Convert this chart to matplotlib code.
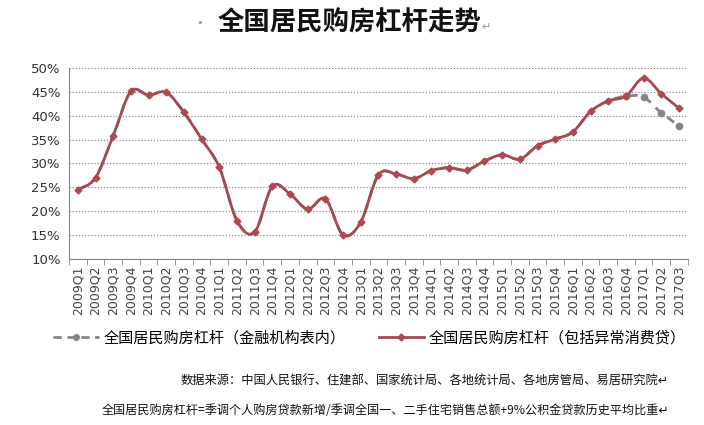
import numpy as np
import matplotlib
matplotlib.use("Agg")
import matplotlib.pyplot as plt
from matplotlib.path import Path
from matplotlib.patches import PathPatch
from matplotlib.lines import Line2D
from matplotlib.ticker import FuncFormatter

plt.rcParams['font.family'] = ['Noto Sans CJK SC', 'DejaVu Sans']

# quarters 2009Q1 .. 2017Q3
quarters = ['%dQ%d' % (y, q) for y in range(2009, 2018) for q in range(1, 5)][:35]

# 全国居民购房杠杆（包括异常消费贷）
lev_all = [24.5, 27.0, 35.8, 45.1, 44.3, 44.9, 40.7, 35.1, 29.2, 18.0,
           15.6, 25.2, 23.6, 20.4, 22.6, 15.0, 17.7, 27.6, 27.8, 26.8,
           28.5, 29.1, 28.6, 30.5, 31.8, 30.9, 33.7, 35.1, 36.6, 40.9,
           43.1, 44.1, 47.9, 44.6, 41.6]
# 全国居民购房杠杆（金融机构表内）: same until 2016Q4
lev_bank = lev_all[:32] + [43.9, 40.6, 37.9]

name_bank = '全国居民购房杠杆（金融机构表内）'
name_all = '全国居民购房杠杆（包括异常消费贷）'

red = '#A34A52'
gray = '#858585'


def smooth_path(xs, ys):
    # excel style smoothed line as cubic bezier segments
    pts = np.column_stack([xs, ys])
    ext = np.vstack([pts[0], pts, pts[-1]])
    verts = [pts[0]]
    codes = [Path.MOVETO]
    for i in range(len(pts) - 1):
        p0, p1, p2, p3 = ext[i], ext[i + 1], ext[i + 2], ext[i + 3]
        verts += [p1 + (p2 - p0) / 6.0, p2 - (p3 - p1) / 6.0, p2]
        codes += [Path.CURVE4] * 3
    return Path(verts, codes)


fig = plt.figure(figsize=(7.04, 4.25), dpi=100)
ax = fig.add_axes([0.098, 0.391, 0.879, 0.449])

x = np.arange(len(quarters))
yb = np.array(lev_bank) / 100
ya = np.array(lev_all) / 100

ax.add_patch(PathPatch(smooth_path(x, yb), fill=False, ec=gray, lw=2.0,
                       ls=(0, (3, 2.5)), zorder=3))
ax.plot(x[31:], yb[31:], ls='none', marker='o', ms=4.5, color=gray, zorder=4)
ax.add_patch(PathPatch(smooth_path(x, ya), fill=False, ec=red, lw=2.0, zorder=5))
ax.plot(x, ya, ls='none', marker='D', ms=3.5, color='#B04850', zorder=6)

ax.set_xlim(-0.5, len(quarters) - 0.5)
ax.set_ylim(0.10, 0.50)
ax.set_yticks(np.arange(0.10, 0.501, 0.05))
ax.yaxis.set_major_formatter(FuncFormatter(lambda v, p: '%d%%' % round(v * 100)))
ax.grid(axis='y', ls=(0, (1, 1.5)), color='#8a8a8a', lw=0.9)
ax.set_axisbelow(True)

ax.set_xticks(x)
ax.set_xticklabels(quarters, rotation=90, fontsize=9, color='#444444',
                   family='DejaVu Sans')
ax.set_xticks(np.arange(-0.5, len(quarters), 1), minor=True)
ax.tick_params(axis='x', which='major', length=0, pad=5)
ax.tick_params(axis='x', which='minor', length=4, color='#868686')
ax.tick_params(axis='y', length=0, labelsize=9.5, labelcolor='#333333', pad=6)
for lab in ax.get_yticklabels():
    lab.set_family('DejaVu Sans')

for s in ['top', 'right']:
    ax.spines[s].set_visible(False)
for s in ['left', 'bottom']:
    ax.spines[s].set_color('#868686')

handles = [Line2D([], [], color=gray, lw=2, ls=(0, (3, 2)), marker='o', ms=4),
           Line2D([], [], color=red, lw=2, marker='D', ms=3.5, markerfacecolor='#B04850')]
fig.legend(handles, [name_bank, name_all], loc='center', ncol=2,
           bbox_to_anchor=(0.525, 0.205), frameon=False, fontsize=10.9,
           handlelength=3.0, handletextpad=0.3, columnspacing=2.2)

fig.text(0.284, 0.945, '·', fontsize=12, color='#999999', ha='center', va='center')
fig.text(0.496, 0.945, '全国居民购房杠杆走势', fontsize=19, fontweight='bold',
         ha='center', va='center', color='#111111')
fig.text(0.684, 0.937, '↵', fontsize=8, color='#999999', ha='left', va='center',
         family='DejaVu Sans')

fig.text(0.95, 0.103, '数据来源：中国人民银行、住建部、国家统计局、各地统计局、各地房管局、易居研究院↵',
         fontsize=8.8, ha='right', va='center', color='#111111')
fig.text(0.95, 0.033, '全国居民购房杠杆=季调个人购房贷款新增/季调全国一、二手住宅销售总额+9%公积金贷款历史平均比重↵',
         fontsize=8.7, ha='right', va='center', color='#111111')

fig.savefig('out.png', dpi=100)
